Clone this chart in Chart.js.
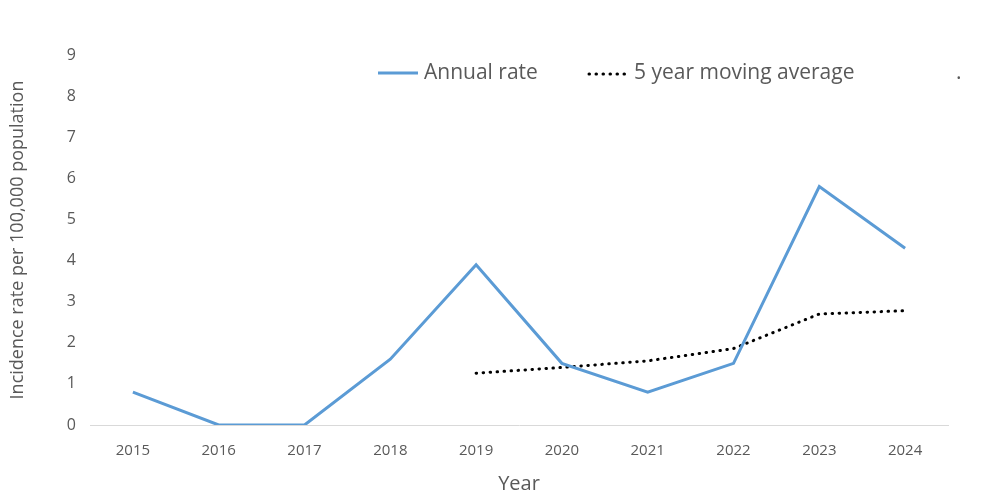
<!DOCTYPE html>
<html>
<head>
<meta charset="utf-8">
<script src="https://cdn.jsdelivr.net/npm/chart.js@4.4.0/dist/chart.umd.min.js"></script>
<style>
html, body { margin: 0; padding: 0; background: #ffffff; }
#wrap { width: 1000px; height: 499px; position: relative; }
</style>
</head>
<body>
<div id="wrap"><canvas id="chart"></canvas></div>
<script>
// ======================
// DATA
// ======================

const years = ["2015","2016","2017","2018","2019","2020","2021","2022","2023","2024"];

const annualRate = [0.8, 0, 0, 1.6, 3.9, 1.5, 0.8, 1.5, 5.8, 4.3];

const movingAverage = [null, null, null, null, 1.26, 1.4, 1.56, 1.86, 2.7, 2.78];

const yTicks = [0,1,2,3,4,5,6,7,8,9];

const FONT = "'Open Sans', 'Noto Sans', sans-serif";
const GREY = "#595959";

// ======================
// LEGEND (drawn in the plot like the original)
// ======================

const legendPlugin = {
    id: "topLegend",
    afterDraw(chart){
        const ctx = chart.ctx;
        const y = 73;
        ctx.save();
        ctx.font = "21px " + FONT;
        ctx.fillStyle = GREY;
        ctx.textBaseline = "middle";

        // annual rate
        ctx.strokeStyle = "#5b9bd5";
        ctx.lineWidth = 3;
        ctx.beginPath();
        ctx.moveTo(378, y);
        ctx.lineTo(418, y);
        ctx.stroke();
        ctx.fillText(chart.data.datasets[0].label, 424, y);

        // moving average
        ctx.strokeStyle = "#000000";
        ctx.lineCap = "round";
        ctx.setLineDash([0.5, 6.5]);
        ctx.beginPath();
        ctx.moveTo(589, y + 1);
        ctx.lineTo(626, y + 1);
        ctx.stroke();
        ctx.setLineDash([]);
        ctx.fillText(chart.data.datasets[1].label, 634, y);

        ctx.fillText(chart.data.datasets[2].label, 956, y);
        ctx.restore();
    }
};

// ======================
// CHART
// ======================

new Chart(
document.getElementById("chart"),
{
type:"line",
data:{
labels:years,
datasets:[{
label:"Annual rate",
data:annualRate,
borderColor:"#5b9bd5",
borderWidth:3,
pointRadius:0,
tension:0,
fill:false
},{
label:"5 year moving average",
data:movingAverage,
borderColor:"#000000",
borderWidth:3,
borderDash:[0.5,6.5],
borderCapStyle:"round",
pointRadius:0,
tension:0,
fill:false
},{
label:".",
data:[],
borderColor:"rgba(0,0,0,0)"
}]
},
options:{
responsive:true,
maintainAspectRatio:false,
animation:false,
layout:{
padding:{top:55,right:52,left:7,bottom:3}
},
plugins:{
legend:{display:false},
tooltip:{enabled:false}
},
scales:{
x:{
offset:true,
grid:{display:false},
border:{display:true,color:"#d9d9d9",width:1},
ticks:{
color:GREY,
font:{family:FONT,size:15},
padding:9,
maxRotation:0
},
title:{
display:true,
text:"Year",
color:GREY,
font:{family:FONT,size:20},
padding:{top:4,bottom:0}
},
afterFit(scale){ scale.height = 71; }
},
y:{
min:0,
max:9,
grid:{display:false},
border:{display:false},
afterBuildTicks(scale){
scale.ticks = yTicks.map(v => ({value:v}));
},
ticks:{
color:GREY,
font:{family:FONT,size:16},
padding:6
},
title:{
display:true,
text:"Incidence rate per 100,000 population",
color:GREY,
font:{family:FONT,size:18},
padding:{top:0,bottom:0}
},
afterFit(scale){ scale.width = 83; }
}
}
},
plugins:[legendPlugin]
}
);
</script>
</body>
</html>
